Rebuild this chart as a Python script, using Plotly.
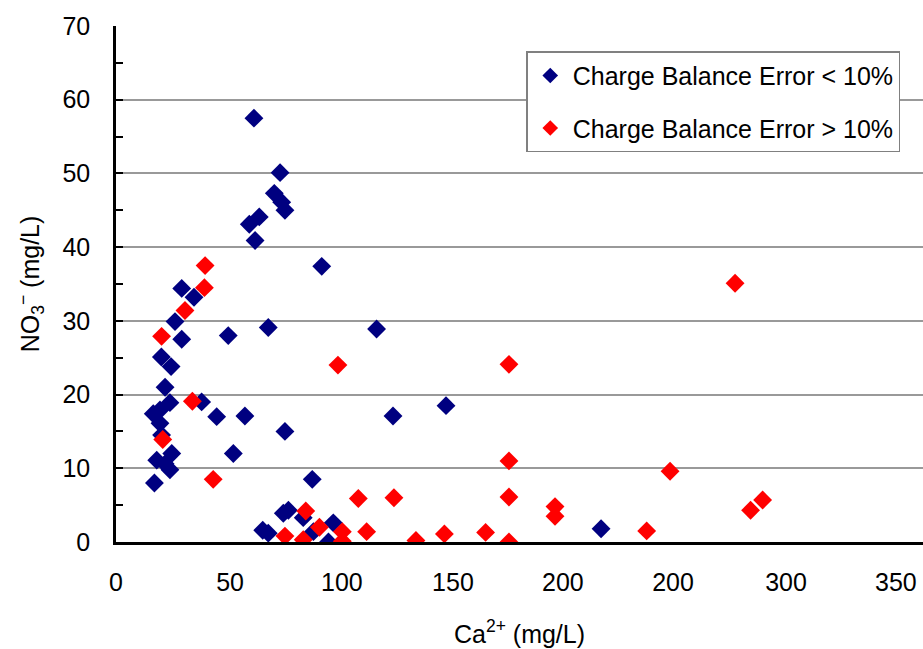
import plotly.graph_objects as go

# Blue series: charge balance error < 10%
ca_low = [59.6, 70.9, 68.4, 71.6, 73.0, 61.9, 57.6, 60.1, 88.9, 28.4, 33.7, 25.5, 65.8, 112.6,
          48.5, 28.4, 19.6, 23.8, 21.2, 23.3, 37.0, 16.1, 19.0, 19.0, 19.7, 43.5, 55.7, 73.0,
          119.7, 142.6, 17.6, 24.1, 21.2, 23.3, 50.7, 16.6, 84.8, 63.4, 65.8, 72.3, 74.5, 80.9,
          85.3, 91.8, 93.9, 209.6]
no3_low = [57.5, 50.1, 47.3, 46.1, 45.0, 44.1, 43.1, 40.9, 37.4, 34.4, 33.2, 29.9, 29.1, 28.9,
           28.0, 27.5, 25.1, 23.8, 21.0, 18.9, 19.0, 17.4, 17.9, 16.1, 14.5, 17.0, 17.1, 15.0,
           17.1, 18.5, 11.1, 12.0, 10.6, 9.8, 12.0, 8.0, 8.5, 1.6, 1.2, 3.9, 4.3, 3.3,
           1.4, 0.0, 2.6, 1.8]

# Red series: charge balance error > 10%
ca_high = [38.5, 38.2, 29.8, 19.7, 33.0, 20.2, 42.0, 73.0, 80.9, 82.0, 87.9, 97.8, 97.8, 108.3,
           104.7, 120.1, 129.6, 141.9, 159.7, 169.8, 169.8, 169.8, 169.8, 189.7, 189.7, 229.3,
           239.4, 267.5, 274.2, 279.4, 95.9]
no3_high = [37.5, 34.5, 31.4, 27.9, 19.1, 13.9, 8.5, 0.8, 0.3, 4.2, 2.0, 1.4, 0.1, 1.4,
            5.9, 6.0, 0.2, 1.1, 1.3, 0.0, 6.1, 11.0, 24.1, 4.8, 3.5, 1.5,
            9.6, 35.1, 4.3, 5.7, 24.0]

# Tick labels as printed on the reference (positions as they appear)
x_label_vals = [0, 49.3, 97.6, 145.6, 193.1, 240.7, 289.5, 337.0]
x_label_text = ["0", "50", "100", "150", "200", "200", "300", "350"]
y_tick_vals = [0, 10, 20, 30, 40, 50, 60, 70]

FONT = "Liberation Sans, Arial, sans-serif"
FS = 25
XMAX = 348.7

fig = go.Figure()
fig.add_trace(go.Scatter(
    x=ca_low, y=no3_low, mode="markers", name="Charge Balance Error < 10%",
    legendgroup="a",
    marker=dict(symbol="diamond", size=14.5, color="#000080", line=dict(width=0)),
))
fig.add_trace(go.Scatter(
    x=ca_high, y=no3_high, mode="markers", name="Charge Balance Error > 10%",
    legendgroup="b",
    marker=dict(symbol="diamond", size=14.5, color="#FF0000", line=dict(width=0)),
))

fig.update_layout(
    width=923, height=649, autosize=False,
    margin=dict(l=116, r=0, t=26, b=107, autoexpand=False),
    paper_bgcolor="white", plot_bgcolor="white",
    font=dict(family=FONT, size=FS, color="black"),
    showlegend=True,
    legend=dict(
        x=0.9718, y=0.951, xanchor="right", yanchor="top",
        bgcolor="white", bordercolor="#808080", borderwidth=1.5,
        font=dict(family=FONT, size=FS, color="black"),
        itemsizing="constant", tracegroupgap=17, itemwidth=35,
    ),
    xaxis=dict(
        range=[0, XMAX], tickmode="array", tickvals=x_label_vals, ticktext=x_label_text,
        ticks="", showgrid=False, zeroline=False, automargin=False,
        showline=True, linecolor="black", linewidth=2.5,
        ticklabelstandoff=16,
        title=dict(text="Ca<sup>2+</sup> (mg/L)", standoff=31, font=dict(size=FS)),
        tickfont=dict(size=FS),
    ),
    xaxis2=dict(
        range=[0, XMAX], overlaying="x", anchor="y", side="bottom", automargin=False,
        tickmode="linear", tick0=0, dtick=50, ticks="inside", ticklen=8, tickwidth=2,
        tickcolor="black", showticklabels=False, showgrid=False, zeroline=False,
        showline=False,
        minor=dict(tickmode="linear", tick0=0, dtick=10, ticks="inside", ticklen=6,
                   tickwidth=2, tickcolor="black", showgrid=False),
    ),
    yaxis=dict(
        range=[0, 70], tickmode="array", tickvals=y_tick_vals, automargin=False,
        ticks="inside", ticklen=7, tickwidth=2, tickcolor="black",
        showgrid=True, gridcolor="#999999", gridwidth=1.5, zeroline=False,
        showline=True, linecolor="black", linewidth=2.5,
        ticklabelstandoff=18,
        minor=dict(tickmode="linear", tick0=5, dtick=10, ticks="inside", ticklen=7,
                   tickwidth=2, tickcolor="black", showgrid=False),
        title=dict(text="NO<sub>3</sub><sup>−</sup> (mg/L)", standoff=16, font=dict(size=FS)),
        tickfont=dict(size=FS),
    ),
)

fig.write_html(
    "out.html",
    config={"displayModeBar": False},
    post_script="document.body.style.margin='0';document.body.style.padding='0';"
                "document.body.style.overflow='hidden';",
)
